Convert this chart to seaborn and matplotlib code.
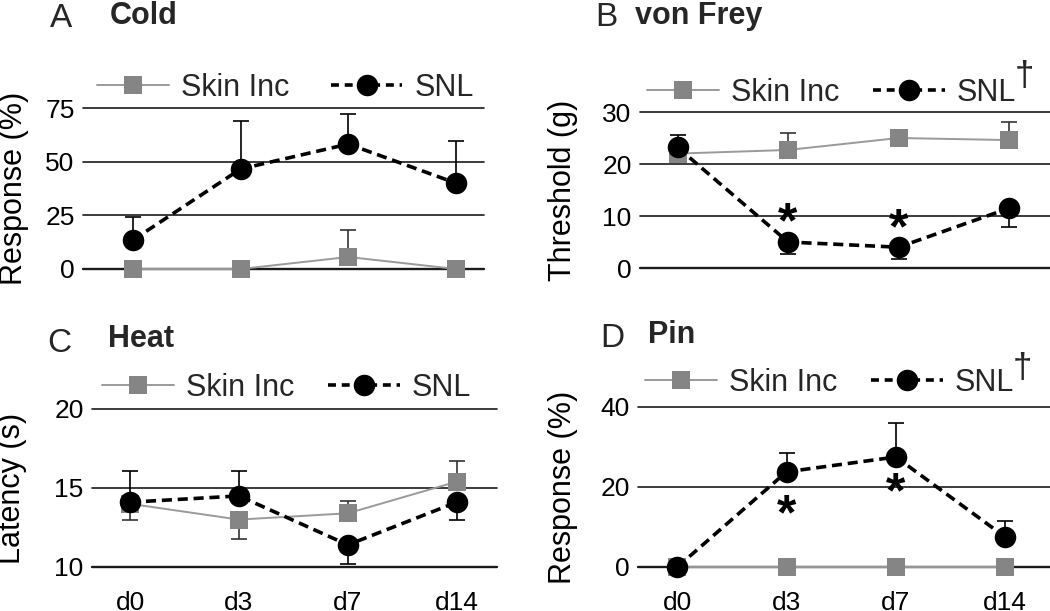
import numpy as np
import pandas as pd
import matplotlib
matplotlib.use("Agg")
import matplotlib.pyplot as plt
from matplotlib.lines import Line2D
import seaborn as sns

# ---------------- data ----------------
days = ["d0", "d3", "d7", "d14"]
groups = ["Skin Inc", "SNL"]

# A: Cold, response (%)
cold_skin = [0.0, 0.0, 5.6, 0.0]
cold_skin_lo = [0, 0, 0, 0]
cold_skin_hi = [0, 0, 12.6, 0]
cold_snl = [13.5, 46.6, 58.2, 40.0]
cold_snl_lo = [0, 0, 0, 0]
cold_snl_hi = [10.5, 22.4, 14.0, 19.6]

# B: von Frey, threshold (g)
vf_skin = [22.0, 22.7, 25.0, 24.6]
vf_skin_lo = [0, 0, 0, 0]
vf_skin_hi = [0, 3.3, 0, 3.4]
vf_snl = [23.2, 5.0, 4.0, 11.5]
vf_snl_lo = [0, 2.4, 2.2, 3.7]
vf_snl_hi = [2.3, 0, 0, 0]

# C: Heat, latency (s)
heat_skin = [14.0, 13.0, 13.4, 15.4]
heat_skin_lo = [1.0, 1.2, 0, 0]
heat_skin_hi = [0, 0, 0.75, 1.3]
heat_snl = [14.1, 14.5, 11.4, 14.1]
heat_snl_lo = [0, 0, 1.2, 1.1]
heat_snl_hi = [1.95, 1.6, 0, 0]

# D: Pin, response (%)
pin_skin = [0.0, 0.0, 0.0, 0.0]
pin_skin_lo = [0, 0, 0, 0]
pin_skin_hi = [0, 0, 0, 0]
pin_snl = [0.0, 23.8, 27.5, 7.5]
pin_snl_lo = [0, 0, 0, 0]
pin_snl_hi = [0, 4.7, 8.5, 4.0]

# significance marks (day index, y value)
vf_star_x = [1, 2]
vf_star_y = [10.2, 9.2]
pin_star_x = [1, 2]
pin_star_y = [15.0, 20.5]

panels = [
    dict(letter="A", title="Cold", ylabel="Response (%)", yticks=[0, 25, 50, 75],
         skin=(cold_skin, cold_skin_lo, cold_skin_hi), snl=(cold_snl, cold_snl_lo, cold_snl_hi),
         px=(83, 484), py=(269, 108), xlim=(-0.464, 3.26), xlab=False, dagger=False,
         stars=None, lab_x=29, leg=(97, 88), colsp=1.35, let_xy=(50, 27), tit_xy=(110, 24)),
    dict(letter="B", title="von Frey", ylabel="Threshold (g)", yticks=[0, 10, 20, 30],
         skin=(vf_skin, vf_skin_lo, vf_skin_hi), snl=(vf_snl, vf_snl_lo, vf_snl_hi),
         px=(640, 1050), py=(268, 112), xlim=(-0.34, 3.37), xlab=False, dagger=(1024, 60),
         stars=(vf_star_x, vf_star_y), lab_x=578, leg=(647, 93), colsp=1.1,
         let_xy=(595, 26), tit_xy=(635, 24)),
    dict(letter="C", title="Heat", ylabel="Latency (s)", yticks=[10, 15, 20],
         skin=(heat_skin, heat_skin_lo, heat_skin_hi), snl=(heat_snl, heat_snl_lo, heat_snl_hi),
         px=(92, 497), py=(567, 409), xlim=(-0.35, 3.37), xlab=True, dagger=False,
         stars=None, lab_x=27, leg=(102, 388), colsp=1.1, let_xy=(47, 352), tit_xy=(108, 347)),
    dict(letter="D", title="Pin", ylabel="Response (%)", yticks=[0, 20, 40],
         skin=(pin_skin, pin_skin_lo, pin_skin_hi), snl=(pin_snl, pin_snl_lo, pin_snl_hi),
         px=(638, 1050), py=(567, 407), xlim=(-0.36, 3.41), xlab=True, dagger=(1022, 352),
         stars=(pin_star_x, pin_star_y), lab_x=578, leg=(645, 383), colsp=1.1,
         let_xy=(600, 347), tit_xy=(648, 343)),
]

# ---------------- style ----------------
sns.set_theme(style="white")
plt.rcParams["font.family"] = ["Liberation Sans", "DejaVu Sans"]

W, H = 1050, 611
fig = plt.figure(figsize=(W / 100, H / 100), dpi=100)

SKIN_LINE = "#9a9a9a"
SKIN_MARK = "#858585"
SNL_COL = "black"
DASH = (2.8, 1.6)
LW_SNL = 2.6
LW_SKIN = 1.4
MS_SNL = 15.5
MS_SKIN = 12.5
FS_TICK = 19
FS_LAB = 22


def fx(px):
    return px / W


def fy(py):
    return 1 - py / H


for p in panels:
    x0, x1 = p["px"]
    yb, yt = p["py"]
    ax = fig.add_axes([fx(x0), fy(yb), fx(x1) - fx(x0), (yb - yt) / H])
    ax.set_xlim(*p["xlim"])
    ax.set_ylim(p["yticks"][0], p["yticks"][-1])
    for s in ax.spines.values():
        s.set_visible(False)

    # gridlines
    for t in p["yticks"]:
        ax.axhline(t, color="#1a1a1a", lw=1.7 if t == p["yticks"][0] else 1.2,
                   zorder=0.5, clip_on=False)

    pos = np.arange(len(days))
    rows = []
    for g, key in zip(groups, ["skin", "snl"]):
        vals = p[key][0]
        for i, d in enumerate(days):
            rows.append(dict(pos=pos[i], day=d, group=g, value=vals[i]))
    df = pd.DataFrame(rows)

    # error bars (one-sided; the zero side's cap hides under the marker)
    for key, ecol in [("skin", "#333333"), ("snl", "black")]:
        vals, lo, hi = p[key]
        lo = np.asarray(lo, float)
        hi = np.asarray(hi, float)
        m = (lo > 0) | (hi > 0)
        if m.any():
            cont = ax.errorbar(pos[m], np.asarray(vals)[m], yerr=[lo[m], hi[m]], fmt="none",
                               ecolor=ecol, elinewidth=1.2, capsize=5.8, capthick=1.2,
                               zorder=1.5)
            for art in cont.lines[1]:
                art.set_clip_on(False)
            for art in cont.lines[2]:
                art.set_clip_on(False)

    # lines + markers
    sns.lineplot(data=df[df.group == "Skin Inc"], x="pos", y="value", color=SKIN_LINE,
                 marker="s", markersize=MS_SKIN, markerfacecolor=SKIN_MARK,
                 markeredgewidth=0, lw=LW_SKIN, ax=ax, legend=False, clip_on=False,
                 zorder=2, errorbar=None)
    sns.lineplot(data=df[df.group == "SNL"], x="pos", y="value", color=SNL_COL,
                 marker="o", markersize=MS_SNL, markeredgewidth=0, lw=LW_SNL,
                 ax=ax, legend=False, clip_on=False, zorder=3, errorbar=None)
    ax.lines[-1].set_linestyle((0, DASH))

    # axis labels / ticks
    ax.set_yticks(p["yticks"])
    ax.set_yticklabels([str(t) for t in p["yticks"]], fontsize=FS_TICK)
    ax.set_xticks(pos)
    if p["xlab"]:
        ax.set_xticklabels(days, fontsize=FS_TICK)
    else:
        ax.set_xticklabels([])
    ax.tick_params(axis="both", length=0, colors="black")
    ax.tick_params(axis="y", pad=6)
    ax.tick_params(axis="x", pad=17)
    ax.set_xlabel("")
    ax.set_ylabel(p["ylabel"], fontsize=FS_LAB, color="black")
    ax.yaxis.set_label_coords((p["lab_x"] - x0) / (x1 - x0), 0.5)

    # significance asterisks
    if p["stars"]:
        for sx, sy in zip(*p["stars"]):
            ax.annotate("*", (sx, sy), xytext=(0, -7), textcoords="offset points",
                        ha="center", va="center", fontsize=36, fontweight="bold",
                        color="black")

    # legend
    hs = [Line2D([], [], color=SKIN_LINE, lw=LW_SKIN, marker="s", markersize=MS_SKIN,
                 markerfacecolor=SKIN_MARK, markeredgewidth=0),
          Line2D([], [], color=SNL_COL, lw=LW_SNL, marker="o", markersize=MS_SNL,
                 markeredgewidth=0, linestyle=(0, (2.2, 1.6)))]
    lx, ly = p["leg"]
    ax.legend(hs, groups, loc="center left",
              bbox_to_anchor=((lx - x0) / (x1 - x0), (yb - ly) / (yb - yt)),
              ncol=2, frameon=False, fontsize=FS_LAB, handlelength=2.35,
              handletextpad=0.4, columnspacing=p["colsp"], borderpad=0, borderaxespad=0,
              numpoints=1)

    # panel letter + title
    fig.text(fx(p["let_xy"][0]), fy(p["let_xy"][1]), p["letter"], fontsize=24,
             ha="left", va="baseline")
    fig.text(fx(p["tit_xy"][0]), fy(p["tit_xy"][1]), p["title"], fontsize=22,
             fontweight="bold", ha="left", va="baseline")
    if p["dagger"]:
        dx, dy = p["dagger"]
        fig.text(fx(dx), fy(dy), "\u2020", fontsize=25, ha="center", va="top")

fig.savefig("out.png", dpi=100)
